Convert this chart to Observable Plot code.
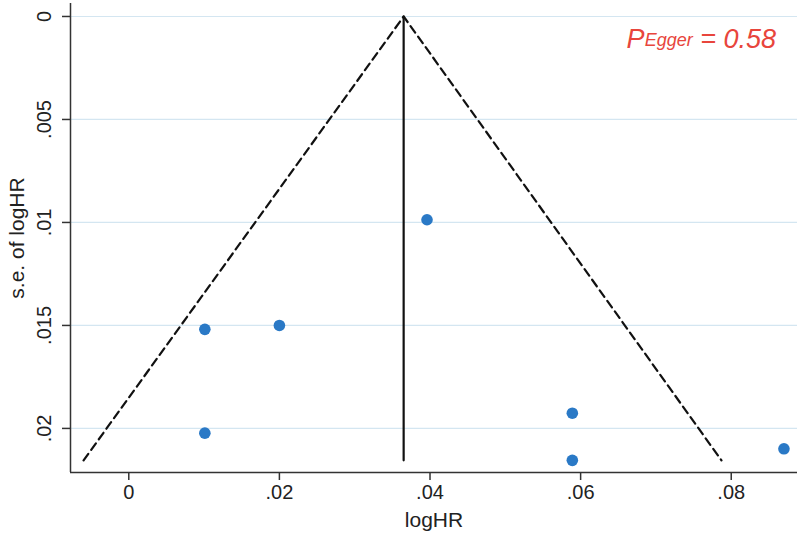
<!DOCTYPE html>
<html>
<head>
<meta charset="utf-8">
<script src="https://cdn.jsdelivr.net/npm/d3@7"></script>
<script src="https://cdn.jsdelivr.net/npm/@observablehq/plot@0.6"></script>
<style>
  html, body { margin: 0; padding: 0; background: #fff; }
  #chart { position: relative; width: 800px; height: 539px; }
  svg { font-family: "Liberation Sans", Arial, sans-serif; }
</style>
</head>
<body>
<div id="chart"></div>
<script>
// Study estimates (log hazard ratio) and their standard errors
const logHR = [0.0396, 0.0101, 0.0200, 0.0101, 0.0589, 0.0589, 0.0870];
const seLogHR = [0.00987, 0.01519, 0.01500, 0.02023, 0.01926, 0.02155, 0.02099];

// Pooled estimate (vertical line) and pseudo 95% confidence funnel vertices
const pooledX = [0.0365, 0.0365];
const pooledY = [0, 0.02155];
const funnelX = [-0.0060, 0.0365, 0.0787];
const funnelY = [0.02155, 0, 0.02155];

// Tick values
const xTicks = [0, 0.02, 0.04, 0.06, 0.08];
const yTicks = [0, 0.005, 0.01, 0.015, 0.02];

const studies = logHR.map((x, i) => ({x, y: seLogHR[i]}));
const pooled = pooledX.map((x, i) => ({x, y: pooledY[i]}));
const funnel = funnelX.map((x, i) => ({x, y: funnelY[i]}));

const fmt = d => d === 0 ? "0" : d3.format("~g")(d).replace(/^0/, "");

const plot = Plot.plot({
  width: 800,
  height: 539,
  marginLeft: 70,
  marginRight: 3,
  marginTop: 3,
  marginBottom: 67,
  style: {fontFamily: "Liberation Sans, Arial, sans-serif", fontSize: "20px", color: "#222", background: "#fff"},
  x: {domain: [-0.00774, 0.0888]},
  y: {domain: [-0.00063, 0.02214], reverse: true},
  marks: [
    Plot.gridY(yTicks, {stroke: "#d4e6f1", strokeOpacity: 1, strokeWidth: 1.2}),
    Plot.axisX(xTicks, {tickFormat: fmt, tickSize: 8, tickPadding: 4, stroke: "#333", strokeWidth: 1.5,
      fontSize: 20, label: null}),
    Plot.axisX({label: "logHR", labelAnchor: "center", labelArrow: "none", labelOffset: 54, fontSize: 21,
      ticks: [], tickSize: 0}),
    Plot.axisY(yTicks, {tickFormat: fmt, tickSize: 8, tickPadding: 12, tickRotate: -90, stroke: "#333", strokeWidth: 1.5,
      fontSize: 20, label: null}),
    Plot.axisY({label: "s.e. of logHR", labelAnchor: "center", labelArrow: "none", labelOffset: 61, fontSize: 21,
      ticks: [], tickSize: 0}),
    Plot.ruleY([0.02214], {stroke: "#333", strokeWidth: 1.5}),
    Plot.ruleX([-0.00774], {stroke: "#333", strokeWidth: 1.5}),
    Plot.line(funnel, {x: "x", y: "y", stroke: "#111", strokeWidth: 2.2, strokeDasharray: "8,5"}),
    Plot.line(pooled, {x: "x", y: "y", stroke: "#111", strokeWidth: 2.2}),
    Plot.dot(studies, {x: "x", y: "y", r: 5.8, fill: "#2a79c6", stroke: "none"})
  ]
});

const svg = d3.select(plot);
const ann = svg.append("text")
  .attr("x", 776)
  .attr("y", 48)
  .attr("text-anchor", "end")
  .attr("fill", "#e8453c")
  .attr("font-style", "italic")
  .attr("font-size", 27);
ann.append("tspan").text("P");
ann.append("tspan").attr("font-size", 18).attr("dy", -2).text("Egger");
ann.append("tspan").attr("dy", 2).text(" = 0.58");

document.getElementById("chart").appendChild(plot);
</script>
</body>
</html>
